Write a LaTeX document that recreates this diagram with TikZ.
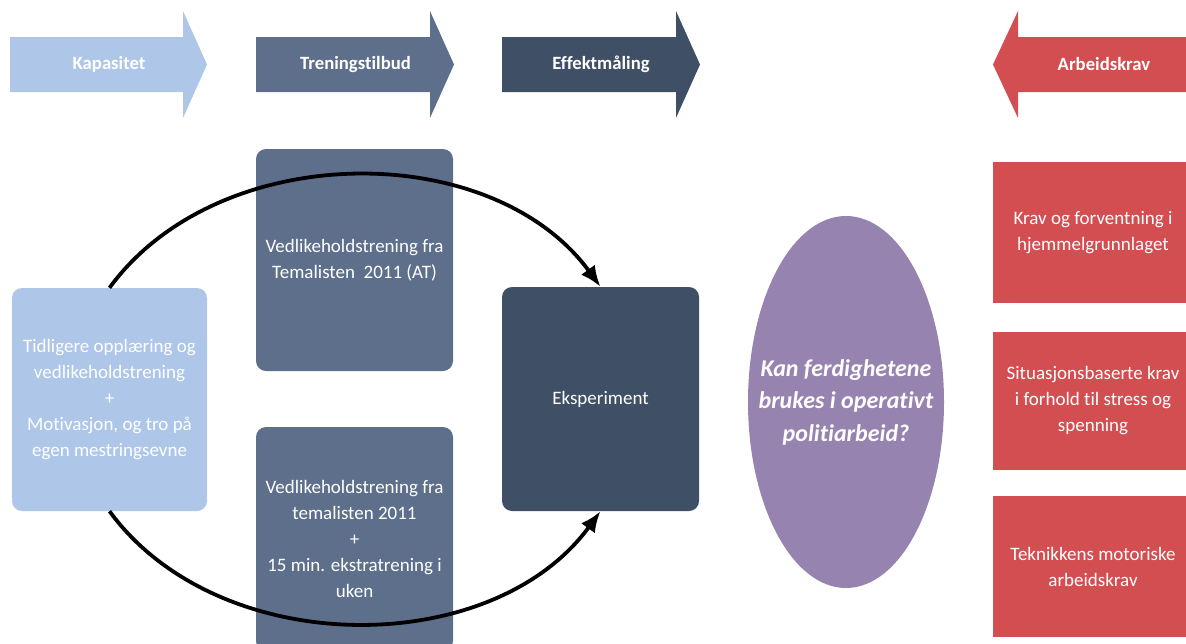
\documentclass[tikz,border=0pt]{standalone}
\usepackage{fontspec}
\setmainfont{Carlito}[Ligatures=NoCommon]
\usetikzlibrary{arrows.meta,calc,shapes.geometric}
\definecolor{capblue}{HTML}{AEC6E8}
\definecolor{trenblue}{HTML}{5D6F8B}
\definecolor{effblue}{HTML}{3F5066}
\definecolor{arbred}{HTML}{D24E50}
\definecolor{qpurple}{HTML}{9783B0}
\begin{document}
\begin{tikzpicture}[x=1pt,y=-1pt,
  hdr/.style={text=white,font=\bfseries\fontsize{18.7}{22}\selectfont,inner sep=0pt},
  box/.style={rounded corners=10pt,text=white,align=center,
    font=\fontsize{19}{26}\selectfont,inner sep=0pt},
  redbox/.style={fill=arbred,text=white,align=center,
    font=\fontsize{19}{26}\selectfont,inner sep=0pt,
    minimum width=200pt},
  flow/.style={line width=3.8pt,-{Latex[length=21pt,width=17pt]}}
]
\useasboundingbox (0,0) rectangle (1186,643);
% header arrows
\fill[capblue] (10,37) -- (183,37) -- (183,11) -- (207,64.5) -- (183,118) -- (183,92) -- (10,92) -- cycle;
\fill[trenblue] (256,37) -- (430,37) -- (430,11) -- (454,64.5) -- (430,118) -- (430,92) -- (256,92) -- cycle;
\fill[effblue] (502,37) -- (676,37) -- (676,11) -- (700,64.5) -- (676,118) -- (676,92) -- (502,92) -- cycle;
\fill[arbred] (1190,37) -- (1018,37) -- (1018,11) -- (993,64.5) -- (1018,118) -- (1018,92) -- (1190,92) -- cycle;
\node[hdr] (kap) at (109,64.5) {Kapasitet};
\node[hdr] (tren) at (355.5,64.5) {Treningstilbud};
\node[hdr] (eff) at (601,64.5) {Effektmåling};
\node[hdr] (arb) at (1104,64.5) {Arbeidskrav};
% boxes
\node[box,fill=capblue,minimum width=195pt,minimum height=223pt] (tidl) at (109.5,399.5)
  {Tidligere opplæring og\\vedlikeholdstrening\\+\\Motivasjon, og tro på\\egen mestringsevne};
\node[box,fill=trenblue,minimum width=197pt,minimum height=222pt] (top) at (354.5,260)
  {Vedlikeholdstrening fra\\Temalisten\ \ 2011 (AT)};
\node[box,fill=trenblue,minimum width=197pt,minimum height=224pt] (bot) at (354.5,539)
  {Vedlikeholdstrening fra\\temalisten 2011\\+\\15 min. ekstratrening i\\uken};
\node[box,fill=effblue,minimum width=197pt,minimum height=224pt] (exp) at (600.5,399)
  {Eksperiment};
\node[ellipse,fill=qpurple,text=white,inner xsep=-25pt,inner ysep=0pt,minimum width=196pt,minimum height=372pt,
  align=center,font=\bfseries\itshape\fontsize{24}{32.5}\selectfont] (q) at (846,402)
  {Kan ferdighetene\\brukes i operativt\\politiarbeid?};
\node[redbox,minimum height=141pt] (r1) at (1093,232.5) {Krav og forventning i\\hjemmelgrunnlaget};
\node[redbox,minimum height=138pt] (r2) at (1093,401) {Situasjonsbaserte krav\\i forhold til stress og\\spenning};
\node[redbox,minimum height=141pt] (r3) at (1093,566.5) {Teknikkens motoriske\\arbeidskrav};
% cycle arrows
\draw[flow] (tidl.north) .. controls ($(tidl.north)+(109,-149)$) and ($(exp.north)+(-109,-149)$) .. (exp.north);
\draw[flow] (tidl.south) .. controls ($(tidl.south)+(109,149)$) and ($(exp.south)+(-109,149)$) .. (exp.south);
\end{tikzpicture}
\end{document}
